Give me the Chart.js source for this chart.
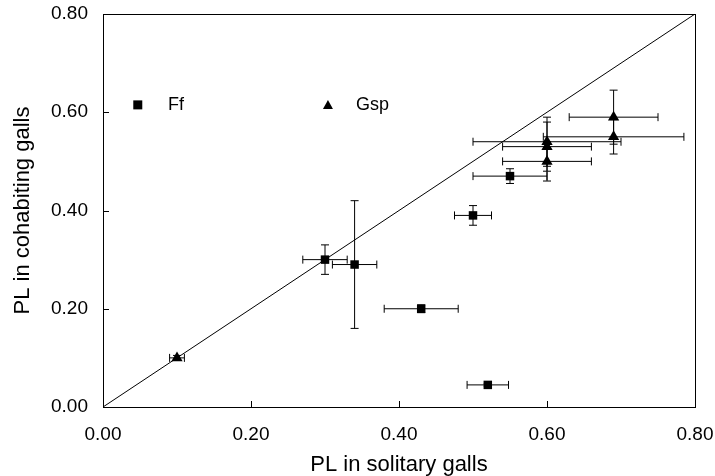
<!DOCTYPE html>
<html>
<head>
<meta charset="utf-8">
<script src="https://cdn.jsdelivr.net/npm/chart.js@4/dist/chart.umd.min.js"></script>
<style>
  html, body { margin: 0; padding: 0; background: #fff; }
  #wrap { width: 715px; height: 476px; }
</style>
</head>
<body>
<div id="wrap"><canvas id="plot"></canvas></div>
<script>
// Ff (squares)
const ffX = [0.52, 0.43, 0.30, 0.34, 0.50, 0.55];
const ffY = [0.045, 0.20, 0.30, 0.29, 0.39, 0.47];
const ffXErr = [0.028, 0.05, 0.03, 0.03, 0.025, 0.05];
const ffYErr = [0.003, 0.008, 0.03, 0.13, 0.02, 0.015];

// Gsp (triangles)
const gspX = [0.10, 0.60, 0.60, 0.60, 0.69, 0.69];
const gspY = [0.10, 0.54, 0.53, 0.50, 0.59, 0.55];
const gspXErr = [0.01, 0.10, 0.06, 0.06, 0.06, 0.095];
const gspYErr = [0.005, 0.05, 0.05, 0.04, 0.055, 0.035];

const tickValues = [0, 0.2, 0.4, 0.6, 0.8];
const font = "'Liberation Sans', Arial, sans-serif";

function pts(xs, ys, xe, ye) {
  return xs.map((x, i) => ({ x: x, y: ys[i], xe: xe[i], ye: ye[i] }));
}

const errorBars = {
  id: 'errorBars',
  beforeDatasetsDraw(chart) {
    const { ctx, scales: { x, y } } = chart;
    const cap = 4;
    ctx.save();
    ctx.strokeStyle = '#000';
    ctx.lineWidth = 1;
    chart.data.datasets.forEach(ds => {
      if (!ds.errors) return;
      ds.data.forEach(p => {
        const cx = x.getPixelForValue(p.x), cy = y.getPixelForValue(p.y);
        const x0 = x.getPixelForValue(p.x - p.xe), x1 = x.getPixelForValue(p.x + p.xe);
        const y0 = y.getPixelForValue(p.y - p.ye), y1 = y.getPixelForValue(p.y + p.ye);
        ctx.beginPath();
        ctx.moveTo(x0, cy); ctx.lineTo(x1, cy);
        ctx.moveTo(x0, cy - cap); ctx.lineTo(x0, cy + cap);
        ctx.moveTo(x1, cy - cap); ctx.lineTo(x1, cy + cap);
        ctx.moveTo(cx, y0); ctx.lineTo(cx, y1);
        ctx.moveTo(cx - cap, y0); ctx.lineTo(cx + cap, y0);
        ctx.moveTo(cx - cap, y1); ctx.lineTo(cx + cap, y1);
        ctx.stroke();
      });
    });
    ctx.restore();
  },
  afterDraw(chart) {
    const { ctx, chartArea: a, scales: { x, y } } = chart;
    ctx.save();
    ctx.strokeStyle = '#000';
    ctx.lineWidth = 1;
    ctx.strokeRect(a.left + 0.5, a.top + 0.5, a.right - a.left, a.bottom - a.top);
    ctx.beginPath();
    tickValues.forEach(v => {
      const px = Math.round(x.getPixelForValue(v)) + 0.5;
      ctx.moveTo(px, a.bottom); ctx.lineTo(px, a.bottom - 6);
      const py = Math.round(y.getPixelForValue(v)) + 0.5;
      ctx.moveTo(a.left, py); ctx.lineTo(a.left + 6, py);
    });
    ctx.stroke();

    // legend inside plot
    ctx.fillStyle = '#000';
    ctx.font = '18px ' + font;
    ctx.textBaseline = 'middle';
    const ly = y.getPixelForValue(0.615);
    const sx = x.getPixelForValue(0.047);
    ctx.fillRect(sx - 4.5, ly - 4.5, 9, 9);
    ctx.fillText('Ff', x.getPixelForValue(0.088), ly);
    const tx = x.getPixelForValue(0.304);
    ctx.beginPath();
    ctx.moveTo(tx, ly - 5); ctx.lineTo(tx + 5, ly + 4); ctx.lineTo(tx - 5, ly + 4);
    ctx.closePath();
    ctx.fill();
    ctx.fillText('Gsp', x.getPixelForValue(0.342), ly);
    ctx.restore();
  }
};

new Chart(document.getElementById('plot'), {
  type: 'scatter',
  data: {
    datasets: [
      {
        label: 'y = x',
        type: 'line',
        data: [{ x: 0, y: 0 }, { x: 0.8, y: 0.8 }],
        borderColor: '#000',
        borderWidth: 1,
        pointRadius: 0
      },
      {
        label: 'Ff',
        data: pts(ffX, ffY, ffXErr, ffYErr),
        errors: true,
        pointStyle: 'rect',
        pointRadius: 6,
        backgroundColor: '#000',
        borderColor: '#000',
        borderWidth: 0
      },
      {
        label: 'Gsp',
        data: pts(gspX, gspY, gspXErr, gspYErr),
        errors: true,
        pointStyle: 'triangle',
        pointRadius: 6.5,
        backgroundColor: '#000',
        borderColor: '#000',
        borderWidth: 0
      }
    ]
  },
  options: {
    responsive: true,
    maintainAspectRatio: false,
    animation: false,
    layout: { padding: { top: 14, right: 20, left: 0, bottom: 0 } },
    plugins: { legend: { display: false }, tooltip: { enabled: false } },
    scales: {
      x: {
        type: 'linear',
        min: 0, max: 0.8,
        grid: { display: false },
        border: { display: false },
        afterFit: s => { s.height = 69; s.paddingLeft = 0; s.paddingRight = 0; },
        ticks: {
          stepSize: 0.2,
          padding: 8,
          color: '#000',
          font: { family: font, size: 19 },
          callback: v => v.toFixed(2)
        },
        title: {
          display: true,
          text: 'PL in solitary galls',
          color: '#000',
          font: { family: font, size: 22 },
          padding: { top: 0, bottom: -2 }
        }
      },
      y: {
        type: 'linear',
        min: 0, max: 0.8,
        grid: { display: false },
        border: { display: false },
        afterFit: s => { s.width = 103; s.paddingTop = 0; s.paddingBottom = 0; },
        ticks: {
          stepSize: 0.2,
          padding: 7,
          color: '#000',
          font: { family: font, size: 19 },
          callback: v => v.toFixed(2)
        },
        title: {
          display: true,
          text: 'PL in cohabiting galls',
          color: '#000',
          font: { family: font, size: 22 },
          padding: { top: 10, bottom: 0 }
        }
      }
    }
  },
  plugins: [errorBars]
});
</script>
</body>
</html>
